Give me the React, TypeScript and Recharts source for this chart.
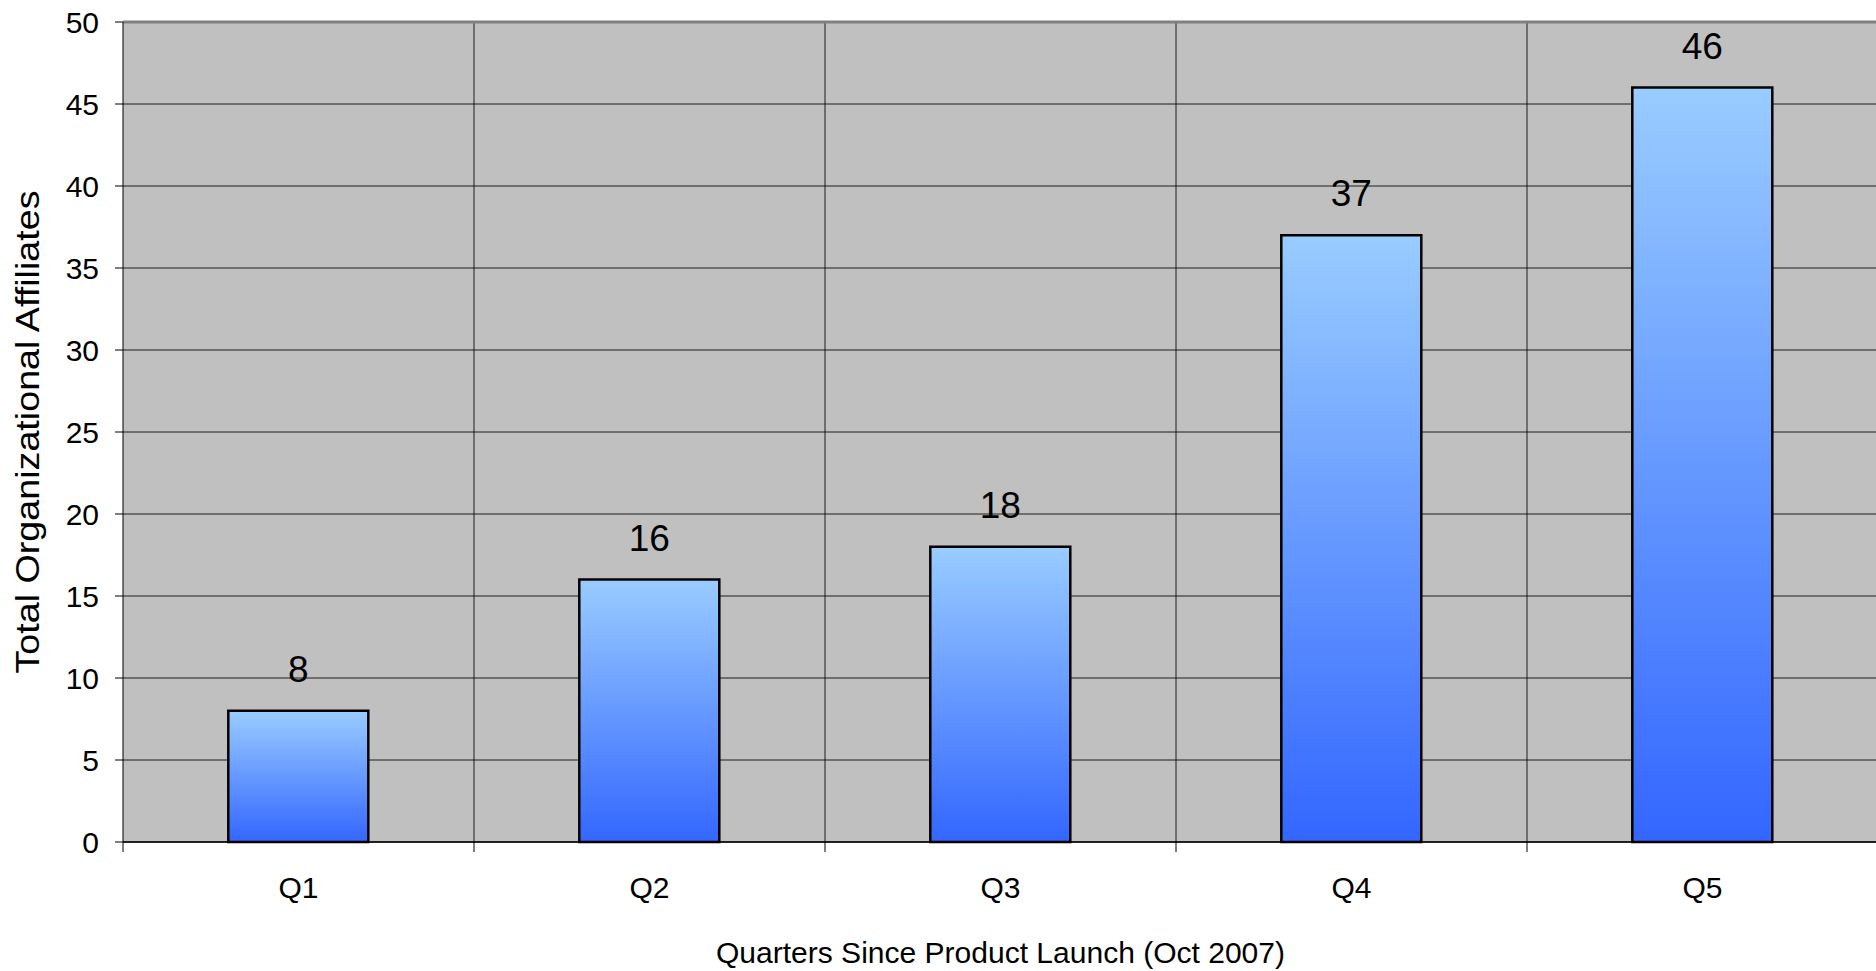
import React from "react";
import { BarChart, Bar, XAxis, YAxis, CartesianGrid, LabelList, Label, ReferenceLine } from "recharts";

const categories = ["Q1", "Q2", "Q3", "Q4", "Q5"];
const affiliates = [8, 16, 18, 37, 46];
const yTicks = [0, 5, 10, 15, 20, 25, 30, 35, 40, 45, 50];
const xTitle = "Quarters Since Product Launch (Oct 2007)";
const yTitle = "Total Organizational Affiliates";

const data = categories.map((q, i) => ({ q, v: affiliates[i] }));

const CHART_W = 1880;
const CHART_H = 971;
const MARGIN = { top: 22, right: 2, bottom: 0, left: 0 };
const Y_AXIS_W = 123;
const X_AXIS_H = 129;
const PLOT_W = CHART_W - MARGIN.left - MARGIN.right - Y_AXIS_W;
const BAND = PLOT_W / categories.length;
const FONT = "'Liberation Sans', Arial, sans-serif";

const XTick = (props: any) => {
  const { x, y, payload } = props;
  return (
    <g>
      <line x1={x - BAND / 2} x2={x - BAND / 2} y1={y} y2={y + 10} stroke="#000" strokeWidth={1} />
      <text x={x} y={y + 56} textAnchor="middle" fontFamily={FONT} fontSize={30} fill="#000">
        {payload.value}
      </text>
    </g>
  );
};

const BarLabel = (props: any) => {
  const { x, y, width, value } = props;
  return (
    <text x={x + width / 2} y={y - 29} textAnchor="middle" fontFamily={FONT} fontSize={37} fill="#000">
      {value}
    </text>
  );
};

const XTitle = (props: any) => {
  const vb = props.viewBox;
  return (
    <text
      x={vb.x + vb.width / 2}
      y={vb.y + 121}
      textAnchor="middle"
      fontFamily={FONT}
      fontSize={30}
      fill="#000"
      textLength={569}
      lengthAdjust="spacingAndGlyphs"
    >
      {xTitle}
    </text>
  );
};

const YTitle = (props: any) => {
  const vb = props.viewBox;
  const cx = 39;
  const cy = vb.y + vb.height / 2;
  return (
    <text
      x={cx}
      y={cy}
      transform={`rotate(-90 ${cx} ${cy})`}
      textAnchor="middle"
      fontFamily={FONT}
      fontSize={34}
      fill="#000"
      textLength={483}
      lengthAdjust="spacingAndGlyphs"
    >
      {yTitle}
    </text>
  );
};

export default function App() {
  return (
    <div style={{ position: "absolute", left: 0, top: 0, width: 1876, height: 971, overflow: "hidden", background: "#fff" }}>
      <BarChart width={CHART_W} height={CHART_H} data={data} margin={MARGIN} barCategoryGap="30%">
        <defs>
          <linearGradient id="barGrad" x1="0" y1="0" x2="0" y2="1">
            <stop offset="0%" stopColor="#99CCFF" />
            <stop offset="100%" stopColor="#3366FF" />
          </linearGradient>
        </defs>
        <CartesianGrid
          fill="#C0C0C0"
          stroke="#000"
          strokeWidth={1}
          strokeOpacity={0.85}
          verticalCoordinatesGenerator={({ offset }: any) =>
            categories.map((_, i) => offset.left + (i + 1) * (offset.width / categories.length))
          }
        />
        <ReferenceLine y={50} stroke="#808080" strokeWidth={3} />
        <XAxis
          dataKey="q"
          height={X_AXIS_H}
          tickSize={0}
          tickMargin={0}
          tickLine={false}
          axisLine={{ stroke: "#000", strokeWidth: 1.5 }}
          tick={<XTick />}
          interval={0}
        >
          <Label content={<XTitle />} />
        </XAxis>
        <YAxis
          width={Y_AXIS_W}
          domain={[0, 50]}
          ticks={yTicks}
          interval={0}
          tickSize={8}
          tickMargin={16}
          axisLine={{ stroke: "#000" }}
          tickLine={{ stroke: "#000" }}
          tick={{ fontFamily: FONT, fontSize: 30, fill: "#000" }}
        >
          <Label content={<YTitle />} />
        </YAxis>
        <Bar dataKey="v" fill="url(#barGrad)" stroke="#000" strokeWidth={2.5} isAnimationActive={false}>
          <LabelList dataKey="v" content={<BarLabel />} />
        </Bar>
      </BarChart>
    </div>
  );
}
